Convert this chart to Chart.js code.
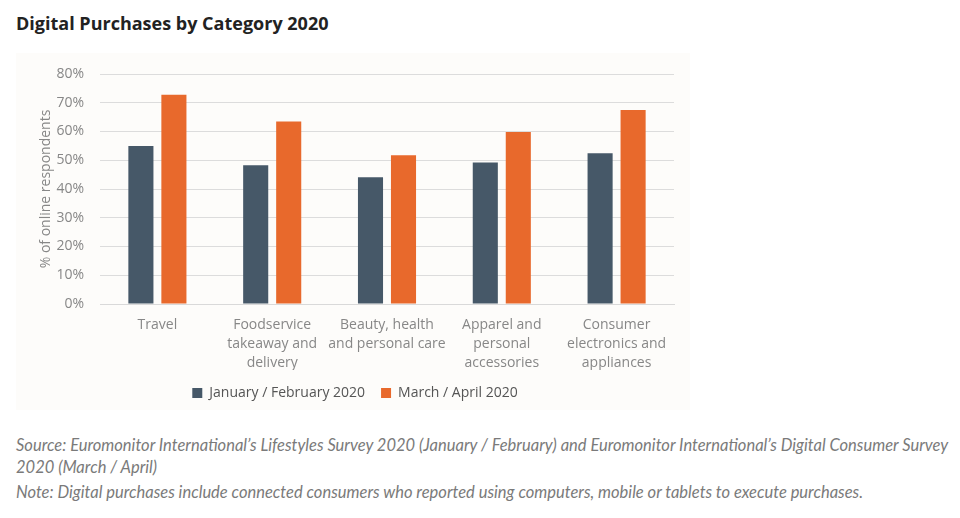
<!DOCTYPE html>
<html>
<head>
<meta charset="utf-8">
<script src="https://cdn.jsdelivr.net/npm/chart.js@4.4.0/dist/chart.umd.min.js"></script>
<style>
  html, body { margin: 0; padding: 0; background: #fff; }
  body { width: 960px; height: 518px; position: relative; overflow: hidden; }
  #title { position: absolute; left: 16px; top: 11px; font-family: "Open Sans", sans-serif; font-weight: 700; font-size: 18px; color: #222; }
  #box { position: absolute; left: 16px; top: 53px; width: 674px; height: 357px; background: #fdfcfa; }
  #notes { position: absolute; left: 16px; top: 434px; width: 940px; font-family: Lato, sans-serif; font-style: italic; font-size: 16.5px; line-height: 22px; color: #7a7a7a; }
  #notes p { margin: 0; }
  #notes p + p { margin-top: 3px; }
</style>
</head>
<body>
<div id="title">Digital Purchases by Category 2020</div>
<div id="box"><canvas id="bar-chart"></canvas></div>
<div id="notes">
  <p>Source: Euromonitor International’s Lifestyles Survey 2020 (January / February) and Euromonitor International’s Digital Consumer Survey 2020 (March / April)</p>
  <p>Note: Digital purchases include connected consumers who reported using computers, mobile or tablets to execute purchases.</p>
</div>
<script>
const categories = [
  ['Travel'],
  ['Foodservice', 'takeaway and', 'delivery'],
  ['Beauty, health', 'and personal care'],
  ['Apparel and', 'personal', 'accessories'],
  ['Consumer', 'electronics and', 'appliances']
];
const seriesNames = ['January / February 2020', 'March / April 2020'];
const janFeb = [55, 48.3, 44.1, 49.2, 52.4];
const marApr = [72.8, 63.5, 51.7, 59.8, 67.5];
const yTicks = [0, 10, 20, 30, 40, 50, 60, 70, 80];

const grey = '#878787';
const font = { family: 'Open Sans', size: 14 };

new Chart(document.getElementById('bar-chart'), {
  type: 'bar',
  data: {
    labels: categories,
    datasets: [
      { label: seriesNames[0], data: janFeb, backgroundColor: '#465868' },
      { label: seriesNames[1], data: marApr, backgroundColor: '#e8692c' }
    ]
  },
  options: {
    responsive: true,
    maintainAspectRatio: false,
    animation: false,
    categoryPercentage: 0.575,
    barPercentage: 0.76,
    layout: { padding: { top: 0, right: 16, bottom: 0, left: 20 } },
    plugins: {
      tooltip: { enabled: false },
      legend: {
        position: 'bottom',
        labels: {
          color: '#555',
          font: font,
          boxWidth: 10, boxHeight: 10, padding: 16
        }
      }
    },
    scales: {
      x: {
        grid: { display: false },
        border: { color: '#d9d9d9' },
        ticks: { color: grey, font: { family: 'Open Sans', size: 14, lineHeight: 1.36 }, padding: 3, maxRotation: 0, autoSkip: false },
        afterFit: (s) => { s.height = 66; }
      },
      y: {
        min: 0, max: 80,
        afterBuildTicks: (s) => { s.ticks = yTicks.map(v => ({ value: v })); },
        grid: { color: '#dcdcdc', drawTicks: false },
        border: { display: false },
        ticks: { color: grey, font: font, padding: 16, callback: v => v + '%' },
        title: { display: true, text: '% of online respondents', color: grey, font: font, padding: { top: 2, bottom: 0 } },
        afterFit: (s) => { s.width = 64; s.paddingTop = 21; s.paddingBottom = 0; }
      }
    }
  }
});
</script>
</body>
</html>
